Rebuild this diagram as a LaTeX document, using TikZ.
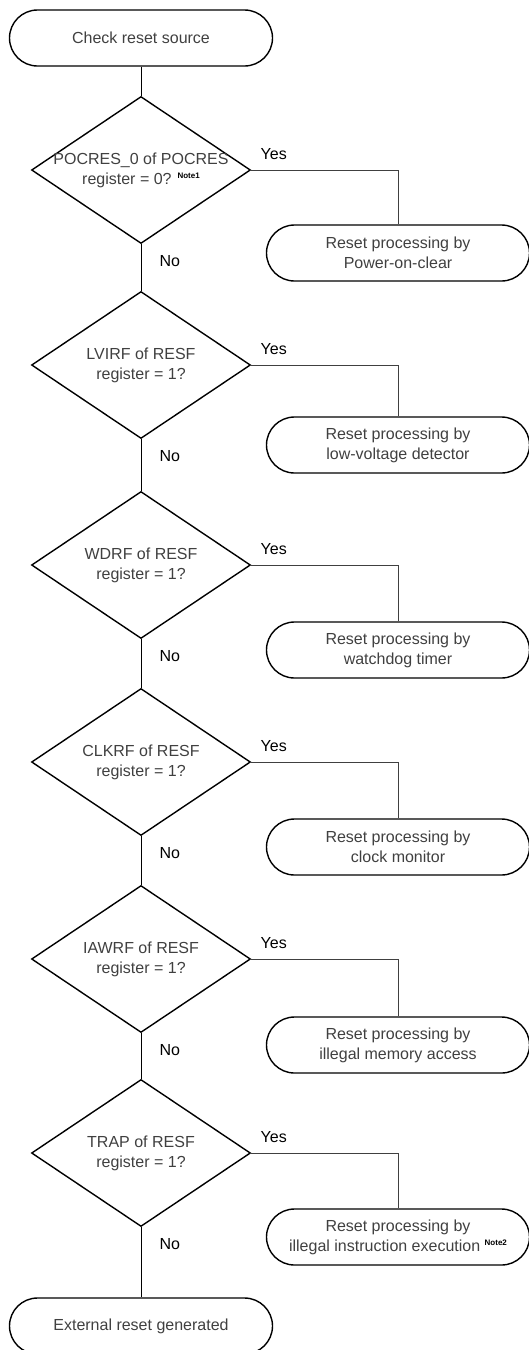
\documentclass[tikz,border=0pt]{standalone}
\usepackage{fontspec}
\setmainfont{Liberation Sans}
\usetikzlibrary{shapes.geometric}

\newcommand{\notetag}[1]{\raisebox{6pt}{\fontsize{8}{8}\selectfont\bfseries\color{black}#1}}

\tikzset{
  decision/.style={diamond, draw, line width=1.4pt, minimum width=219pt, minimum height=147pt, inner sep=0pt},
  terminal/.style={rectangle, rounded corners=28pt, draw, line width=1.4pt, minimum width=263pt, minimum height=56pt, inner sep=0pt, align=center, text=black!75},
  dtext/.style={align=center, text=black!75},
  flow/.style={line width=1pt},
  yesline/.style={line width=0.8pt, black!75},
  answer/.style={anchor=base west, text=black}
}

\begin{document}
\begin{tikzpicture}[x=1pt, y=-1pt, every node/.style={font=\fontsize{16pt}{20pt}\selectfont}]

\useasboundingbox (0,0) rectangle (529,1350);

% start and end of the chain
\node[terminal] (start) at (141,38) {Check reset source};
\node[terminal] (stop) at (141,1326) {External reset generated};

% one decision per reset flag, with its processing box on the right
\foreach \i/\dy/\ry/\cond/\res in {
  1/170/253/{POCRES\_0 of POCRES\\register = 0? \notetag{Note1}}/{Reset processing by\\Power-on-clear},
  2/365/445/{LVIRF of RESF\\register = 1?}/{Reset processing by\\low-voltage detector},
  3/565/650/{WDRF of RESF\\register = 1?}/{Reset processing by\\watchdog timer},
  4/762/847/{CLKRF of RESF\\register = 1?}/{Reset processing by\\clock monitor},
  5/959/1045/{IAWRF of RESF\\register = 1?}/{Reset processing by\\illegal memory access},
  6/1153/1237/{TRAP of RESF\\register = 1?}/{Reset processing by\\illegal instruction execution \notetag{Note2}}} {
  \node[decision, label={[dtext]center:\cond}] (d\i) at (141,\dy) {};
  \node[terminal] (r\i) at (398,\ry) {\res};
  \draw[yesline] (d\i.east) -| (r\i.north);
  \node[answer] (yes\i) at ([xshift=6pt, yshift=11pt]d\i.east) {Yes};
  \node[answer] (no\i) at ([xshift=15pt, yshift=-22pt]d\i.south) {No};
}

% the "No" path down the left
\foreach \a/\b in {start/d1, d1/d2, d2/d3, d3/d4, d4/d5, d5/d6, d6/stop}
  \draw[flow] (\a) -- (\b);

\end{tikzpicture}
\end{document}
